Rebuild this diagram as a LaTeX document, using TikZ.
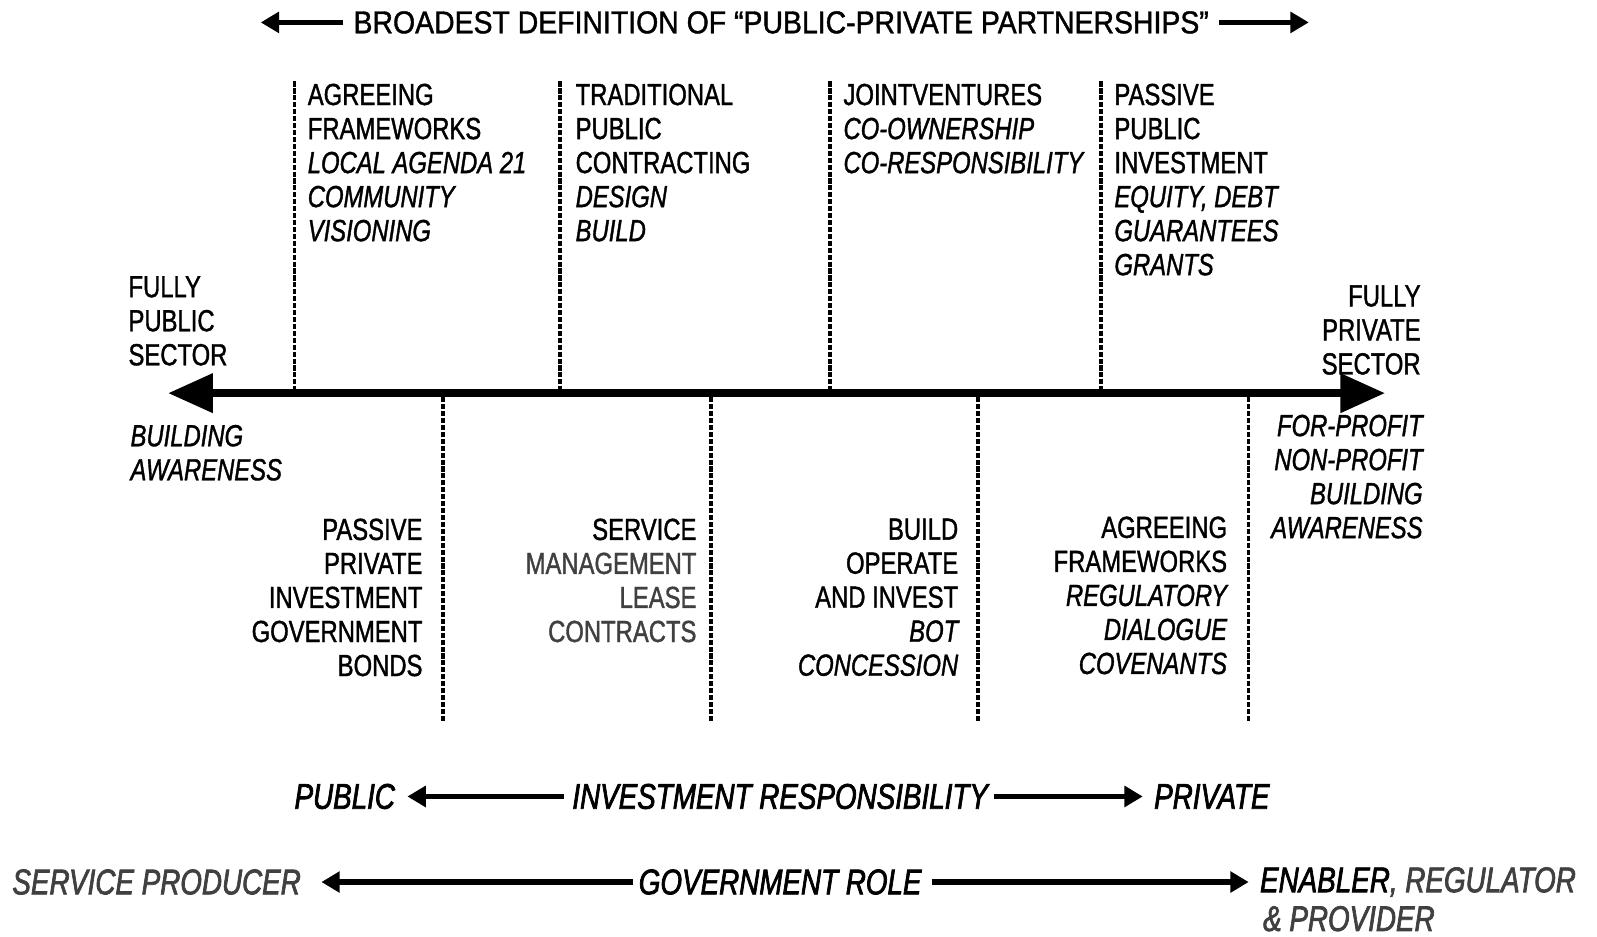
\documentclass[tikz,border=0pt]{standalone}
\usepackage{fontspec}
\setmainfont{Liberation Sans}[FakeStretch=0.78,FakeBold=1.2]
\newfontfamily\titlefont{Liberation Sans}[FakeStretch=0.9,FakeBold=1.2]
\newfontfamily\rowfont{Liberation Sans}[FakeStretch=0.78,FakeBold=2]
\usetikzlibrary{arrows.meta}
\definecolor{txtgray}{gray}{0.25}
\begin{document}
\begin{tikzpicture}[x=1pt,y=-1pt,
  lbl/.style={inner sep=0pt,font=\fontsize{30}{33.4}\selectfont},
  lblL/.style={lbl,align=left,anchor=north west},
  lblR/.style={lbl,align=right,anchor=north east},
  row/.style={inner sep=0pt,font=\rowfont\fontsize{35}{40}\selectfont\itshape},
  divider/.style={line width=3.5pt,dash pattern=on 5pt off 1.8pt},
  axis/.style={line width=8pt,{Triangle[length=44pt,width=37pt]}-{Triangle[length=44pt,width=37pt]}},
  thinarrow/.style={line width=5pt,-{Triangle[length=18pt,width=20pt]}}
]
\useasboundingbox (0,0) rectangle (1568,919);

% title
\node[inner sep=0pt,font=\titlefont\fontsize{31}{36}\selectfont] (title) at (767,22) {BROADEST DEFINITION OF “PUBLIC-PRIVATE PARTNERSHIPS”};
\coordinate (tL) at (256,22);
\coordinate (tR) at (1285,22);
\draw[thinarrow] ([xshift=-10pt]title.west) -- (tL);
\draw[thinarrow] ([xshift=10pt]title.east) -- (tR);

% main axis
\coordinate (axL) at (165,386);
\coordinate (axR) at (1360,386);
\draw[axis] (axL) -- (axR);

% upper dividers
\foreach \n/\x in {u1/289,u2/550,u3/815,u4/1081}{
  \coordinate (\n top) at (\x,80);
  \coordinate (\n bot) at (\x,382);
  \draw[divider] (\n top) -- (\n bot);
}
% lower dividers
\foreach \n/\x in {l1/435,l2/698,l3/960,l4/1226}{
  \coordinate (\n top) at (\x,390);
  \coordinate (\n bot) at (\x,708);
  \draw[divider] (\n top) -- (\n bot);
}

% upper texts
\node[lblL] (t1) at (302,82) {AGREEING\\FRAMEWORKS\\{\itshape LOCAL AGENDA 21}\\{\itshape COMMUNITY}\\{\itshape VISIONING}};
\node[lblL] (t2) at (565,82) {TRADITIONAL\\PUBLIC\\CONTRACTING\\{\itshape DESIGN}\\{\itshape BUILD}};
\node[lblL] (t3) at (828,82) {JOINTVENTURES\\{\itshape CO-OWNERSHIP}\\{\itshape CO-RESPONSIBILITY}};
\node[lblL] (t4) at (1094,82) {PASSIVE\\PUBLIC\\INVESTMENT\\{\itshape EQUITY, DEBT}\\{\itshape GUARANTEES}\\{\itshape GRANTS}};

% ends
\node[lblL] (pubsec) at (126,271) {FULLY\\PUBLIC\\SECTOR};
\node[lblR] (privsec) at (1395,280) {FULLY\\PRIVATE\\SECTOR};
\node[lblL,font=\fontsize{30}{33.4}\selectfont\itshape] (bawL) at (128,417) {BUILDING\\AWARENESS};
\node[lblR,font=\fontsize{30}{33.4}\selectfont\itshape] (bawR) at (1397,407) {FOR-PROFIT\\NON-PROFIT\\BUILDING\\AWARENESS};

% lower texts
\node[lblR] (b1) at (415,509) {PASSIVE\\PRIVATE\\INVESTMENT\\GOVERNMENT\\BONDS};
\node[lblR] (b2) at (684,509) {SERVICE\hspace{4pt}\\{\color{txtgray}MANAGEMENT}\\{\color{txtgray}LEASE}\\{\color{txtgray}CONTRACTS}};
\node[lblR] (b3) at (941,509) {BUILD\\OPERATE\\AND INVEST\\{\itshape BOT}\\{\itshape CONCESSION}};
\node[lblR] (b4) at (1205,507) {AGREEING\\FRAMEWORKS\\{\itshape REGULATORY}\\{\itshape DIALOGUE}\\{\itshape COVENANTS}};

% investment responsibility row
\node[row,anchor=west] (pub) at (289,782) {PUBLIC};
\node[row] (inv) at (766,782) {INVESTMENT RESPONSIBILITY};
\node[row,anchor=west] (priv) at (1133,782) {PRIVATE};
\draw[thinarrow,shorten <=8pt,shorten >=12pt] (inv.west) -- (pub.east);
\draw[thinarrow,shorten <=6pt,shorten >=11pt] (inv.east) -- (priv.west);

% government role row
\node[row,anchor=west,text=txtgray] (prod) at (12,866) {SERVICE PRODUCER};
\node[row] (gov) at (766,866) {GOVERNMENT ROLE};
\node[row,anchor=west] (enab) at (1237,866) {ENABLER{\color{txtgray}, REGULATOR}};
\node[row,anchor=west,text=txtgray] (provider) at (1240,902) {\& PROVIDER};
\draw[thinarrow,shorten <=6pt,shorten >=20pt] (gov.west) -- (prod.east);
\draw[thinarrow,shorten <=10pt,shorten >=11pt] (gov.east) -- (enab.west);
\end{tikzpicture}
\end{document}
